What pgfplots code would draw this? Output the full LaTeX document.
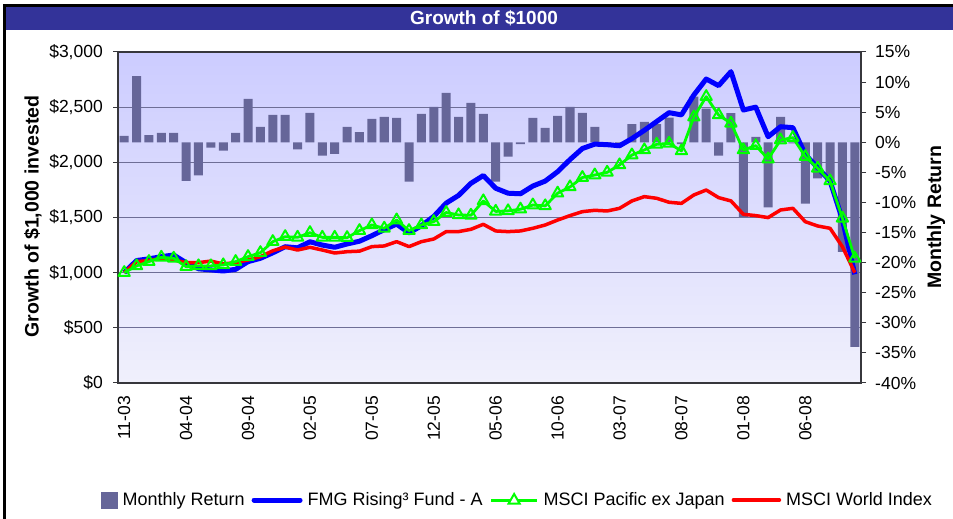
\documentclass[border=0pt]{standalone}
\usepackage{pgfplots}
\pgfplotsset{compat=1.18}
\usepackage{pgfplotstable}
\usepackage{fontspec}
\setmainfont{Liberation Sans}
\definecolor{band}{RGB}{51,51,153}
\definecolor{barc}{RGB}{102,102,153}
\definecolor{gridc}{RGB}{110,110,150}
\definecolor{bgtop}{RGB}{204,204,255}
\definecolor{bgbot}{RGB}{240,240,252}
\definecolor{axc}{RGB}{55,55,60}
\definecolor{fundc}{RGB}{0,0,255}
\definecolor{pacc}{RGB}{0,255,0}
\definecolor{worldc}{RGB}{255,0,0}

\pgfplotstableread{
i ret fund world pac
0 1.05 1000 1000 1000
1 11.0 1110 1100 1061
2 1.2 1125 1109 1100
3 1.55 1145 1130 1139
4 1.55 1160 1115 1130
5 -6.4 1090 1091 1054
6 -5.5 1035 1091 1061
7 -0.9 1025 1105 1061
8 -1.4 1015 1079 1070
9 1.55 1030 1091 1100
10 7.2 1100 1115 1145
11 2.55 1130 1145 1181
12 4.55 1180 1198 1281
13 4.55 1235 1232 1326
14 -1.2 1225 1205 1320
15 4.9 1280 1230 1362
16 -2.2 1250 1205 1320
17 -1.95 1230 1178 1320
18 2.55 1260 1190 1317
19 1.7 1285 1195 1381
20 3.9 1335 1236 1432
21 4.2 1390 1242 1402
22 4.05 1440 1281 1477
23 -6.55 1360 1236 1381
24 4.7 1425 1281 1432
25 5.9 1510 1305 1462
26 8.2 1630 1372 1545
27 4.2 1700 1372 1523
28 6.55 1810 1393 1520
29 4.7 1880 1438 1650
30 -6.55 1765 1378 1555
31 -2.4 1720 1372 1560
32 -0.3 1715 1378 1575
33 4.05 1785 1402 1613
34 2.4 1830 1432 1605
35 4.4 1915 1477 1720
36 5.9 2025 1517 1777
37 4.9 2125 1553 1862
38 2.55 2165 1565 1885
39 -0.3 2160 1559 1909
40 -0.5 2150 1583 1976
41 3.0 2215 1650 2066
42 3.4 2290 1689 2112
43 3.0 2370 1674 2163
44 4.1 2450 1638 2172
45 -0.3 2430 1628 2103
46 7.6 2610 1704 2410
47 5.6 2755 1749 2595
48 -2.2 2695 1680 2429
49 4.85 2822 1650 2354
50 -12.4 2474 1529 2112
51 0.9 2500 1517 2151
52 -10.8 2232 1499 2030
53 4.2 2323 1568 2202
54 -0.2 2314 1583 2224
55 -10.2 2070 1462 2052
56 -6.0 1952 1423 1946
57 -6.5 1830 1402 1831
58 -18.2 1480 1235 1493
59 -34.0 985 1000 1130
}\chartdata

\pgfplotsset{
  common/.style={
    at={(118bp,136bp)}, anchor=south west, scale only axis,
    width=743bp, height=331bp, xmin=-0.5, xmax=59.5,
  },
}

\begin{document}
\begin{tikzpicture}[x=1bp,y=1bp]
\useasboundingbox (0,0) rectangle (953,519);
\fill[band] (3,489) rectangle (960,512);
\draw[black,line width=3bp] (4.5,-10) -- (4.5,513) -- (960,513);
\node[text=white,font=\bfseries\fontsize{19bp}{22bp}\selectfont] at (484,500.5) {Growth of \$1000};

% axis A: background, grid, left axis, x labels
\begin{axis}[common,
  ymin=0, ymax=3000,
  axis background/.style={top color=bgtop, bottom color=bgbot},
  ymajorgrids, grid style={gridc, line width=0.9bp},
  ytick={0,500,1000,1500,2000,2500,3000},
  yticklabels={\$0,\$500,{\$1,000},{\$1,500},{\$2,000},{\$2,500},{\$3,000}},
  ytick pos=left, tick align=outside, major tick length=5bp,
  xtick={0,5,10,15,20,25,30,35,40,45,50,55},
  xticklabels={11-03,04-04,09-04,02-05,07-05,12-05,05-06,10-06,03-07,08-07,01-08,06-08},
  xtick pos=bottom, x tick style={draw=none},
  xticklabel style={yshift=-8bp, rotate=90, anchor=east, inner sep=0pt, font=\fontsize{17.5bp}{20bp}\selectfont},
  yticklabel style={anchor=east, inner sep=0pt, xshift=-10bp, font=\fontsize{17.5bp}{20bp}\selectfont},
  axis line style={axc, line width=1.6bp},
  y tick style={axc, line width=1bp},
]
\end{axis}

% axis B: bars on percent scale, right axis
\begin{axis}[common,
  ymin=-40, ymax=15,
  axis y line*=right, axis x line=none,
  ybar, bar width=0.727,
  ytick={-40,-35,-30,-25,-20,-15,-10,-5,0,5,10,15},
  yticklabels={-40\%,-35\%,-30\%,-25\%,-20\%,-15\%,-10\%,-5\%,0\%,5\%,10\%,15\%},
  tick align=outside, major tick length=5bp,
  yticklabel style={anchor=west, inner sep=0pt, xshift=9bp, font=\fontsize{17.5bp}{20bp}\selectfont},
  axis line style={axc, line width=1.6bp},
  y tick style={axc, line width=1bp},
]
\addplot[fill=barc, draw=none, bar shift=0pt] table[x=i, y=ret]{\chartdata};
\end{axis}

% axis C: lines on dollar scale
\begin{axis}[common,
  ymin=0, ymax=3000, hide axis,
  legend columns=4,
  legend style={at={(0.5377,-0.3535)}, anchor=center, draw=none, fill=none,
    font=\fontsize{18bp}{21bp}\selectfont, inner sep=0pt,
    /tikz/every odd column/.append style={column sep=3bp},
    /tikz/every even column/.append style={column sep=5bp},
    nodes={inner sep=2bp}},
  legend cell align=left,
]
\addlegendimage{legend image code/.code={\fill[barc] (0bp,-8bp) rectangle (16bp,8bp);}}
\addlegendentry{Monthly Return}
\addlegendimage{legend image code/.code={\draw[fundc, line width=5bp, line cap=round] (0bp,0bp) -- (46bp,0bp);}}
\addlegendentry{FMG Rising³ Fund - A}
\addlegendimage{legend image code/.code={\draw[pacc, line width=3bp] (0bp,0bp) -- (46bp,0bp); \draw[pacc, line width=2bp, fill=white] (23bp,6bp) -- (17.5bp,-3.5bp) -- (28.5bp,-3.5bp) -- cycle;}}
\addlegendentry{MSCI Pacific ex Japan}
\addlegendimage{legend image code/.code={\draw[worldc, line width=3.5bp, line cap=round] (0bp,0bp) -- (46bp,0bp);}}
\addlegendentry{MSCI World Index}

\addplot[fundc, line width=5bp, line join=round, forget plot] table[x=i, y=fund]{\chartdata};
\addplot[worldc, line width=3.5bp, line join=round, forget plot] table[x=i, y=world]{\chartdata};
\addplot[pacc, line width=2.8bp, line join=round, mark=triangle, mark size=6.5bp,
  mark options={line width=2bp, fill=none, solid}, forget plot] table[x=i, y=pac]{\chartdata};
\end{axis}

\node[rotate=90, font=\bfseries\fontsize{19.5bp}{22bp}\selectfont] at (33,302.5) {Growth of \$1,000 invested};
\node[rotate=90, font=\bfseries\fontsize{19.5bp}{22bp}\selectfont] at (936,301.5) {Monthly Return};
\end{tikzpicture}
\end{document}
